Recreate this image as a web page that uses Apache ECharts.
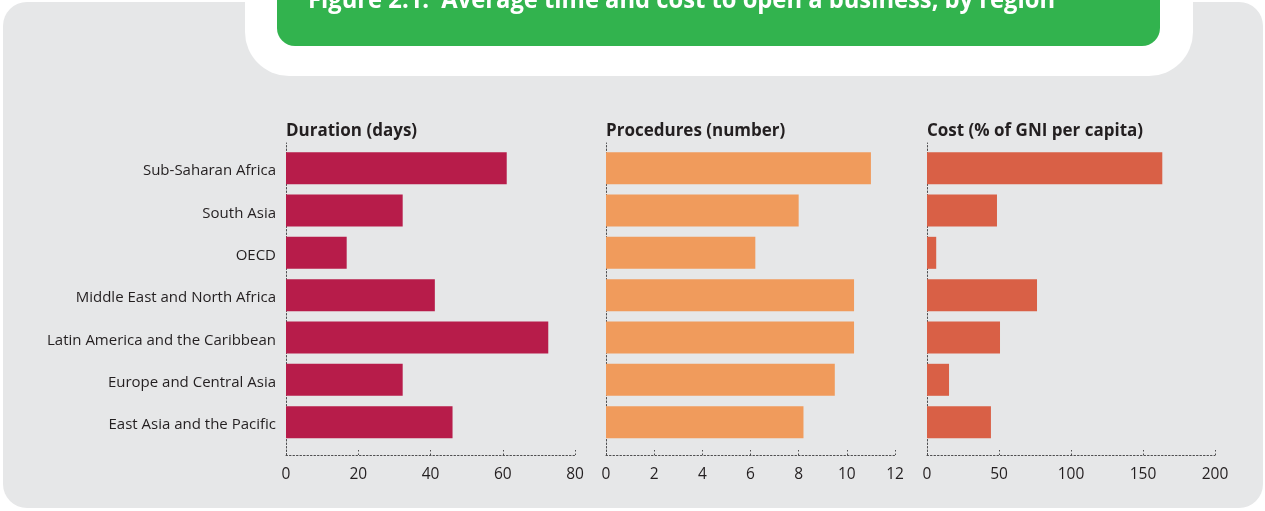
<!DOCTYPE html>
<html>
<head>
<meta charset="utf-8">
<script src="https://cdn.jsdelivr.net/npm/echarts@6/dist/echarts.min.js"></script>
<style>
  html, body { margin: 0; padding: 0; background: #ffffff; }
  #chart { width: 1265px; height: 511px; }
</style>
</head>
<body>
<div id="chart"></div>
<script>
// regions, top to bottom
var regions = [
  'Sub-Saharan Africa',
  'South Asia',
  'OECD',
  'Middle East and North Africa',
  'Latin America and the Caribbean',
  'Europe and Central Asia',
  'East Asia and the Pacific'
];

// values
var durationDays = [61.1, 32.3, 16.8, 41.2, 72.6, 32.3, 46.1];
var procedures = [11.0, 8.0, 6.2, 10.3, 10.3, 9.5, 8.2];
var costPctGni = [163.4, 48.6, 6.4, 76.4, 50.7, 15.3, 44.4];

var panelTitles = ['Duration (days)', 'Procedures (number)', 'Cost (% of GNI per capita)'];
var axisMax = [80, 12, 200];
var axisStep = [20, 2, 50];
var barColors = ['#b71c4a', '#f09b5c', '#d96046'];

var figureTitle = 'Figure 2.1:  Average time and cost to open a business, by region';

var chartDom = document.getElementById('chart');
var myChart = echarts.init(chartDom);

var lefts = [286, 606, 927];
var widths = [289, 289, 288];
var textColor = '#231f20';
var dotted = { color: '#4d4d4f', width: 1, type: [1.5, 2] };

var grids = [], xAxes = [], yAxes = [], series = [], titles = [];
var allData = [durationDays, procedures, costPctGni];

// grids holding the bars
for (var i = 0; i < 3; i++) {
  grids.push({ left: lefts[i], top: 147, width: widths[i], height: 296.3 });
  xAxes.push({ gridIndex: i, type: 'value', min: 0, max: axisMax[i], interval: axisStep[i], show: false });
  yAxes.push({
    gridIndex: i,
    type: 'category',
    inverse: true,
    data: regions,
    axisLine: { show: false },
    axisTick: { show: false },
    axisLabel: {
      show: i === 0,
      margin: 10,
      formatter: function (v) { return '{r|' + v + '}'; },
      rich: {
        r: { color: textColor, fontSize: 15, fontFamily: 'Open Sans', padding: [6, 0, 0, 0] }
      }
    }
  });
  series.push({
    type: 'bar',
    xAxisIndex: i,
    yAxisIndex: i,
    data: allData[i],
    barWidth: 32,
    itemStyle: { color: barColors[i] },
    silent: true
  });
  titles.push({
    text: panelTitles[i],
    left: lefts[i] - 5,
    top: 118,
    textStyle: { color: textColor, fontSize: 17, fontWeight: 'bold', fontFamily: 'Open Sans' }
  });
}

// grids drawing the dotted axes, a bit taller than the bars
for (var j = 0; j < 3; j++) {
  grids.push({ left: lefts[j], top: 143, width: widths[j], height: 312 });
  xAxes.push({
    gridIndex: 3 + j,
    type: 'value',
    min: 0,
    max: axisMax[j],
    interval: axisStep[j],
    axisLine: { show: true, lineStyle: dotted },
    axisTick: { show: true, inside: true, length: 5, lineStyle: dotted },
    splitLine: { show: false },
    axisLabel: { color: textColor, fontSize: 15.5, fontFamily: 'Open Sans', margin: 12 }
  });
  yAxes.push({
    gridIndex: 3 + j,
    type: 'value',
    min: 0,
    max: 1,
    axisLine: { show: true, lineStyle: dotted },
    axisTick: { show: false },
    axisLabel: { show: false },
    splitLine: { show: false }
  });
}

var option = {
  animation: false,
  backgroundColor: '#ffffff',
  graphic: [
    { type: 'rect', z: -10, shape: { x: 3, y: 2, width: 1260, height: 506, r: 24 }, style: { fill: '#e6e7e8' } },
    { type: 'rect', z: -9, shape: { x: 245, y: -50, width: 948, height: 126, r: [0, 0, 44, 44] }, style: { fill: '#ffffff' } },
    { type: 'rect', z: -8, shape: { x: 277, y: -30, width: 883, height: 76, r: [0, 0, 18, 18] }, style: { fill: '#32b34e' } },
    {
      type: 'text',
      z: 10,
      x: 308,
      y: 13,
      scaleX: 0.95,
      style: {
        text: figureTitle,
        fill: '#ffffff',
        font: 'bold 25px "Open Sans"',
        textVerticalAlign: 'bottom'
      }
    }
  ],
  title: titles,
  grid: grids,
  xAxis: xAxes,
  yAxis: yAxes,
  series: series
};

myChart.setOption(option);
</script>
</body>
</html>
